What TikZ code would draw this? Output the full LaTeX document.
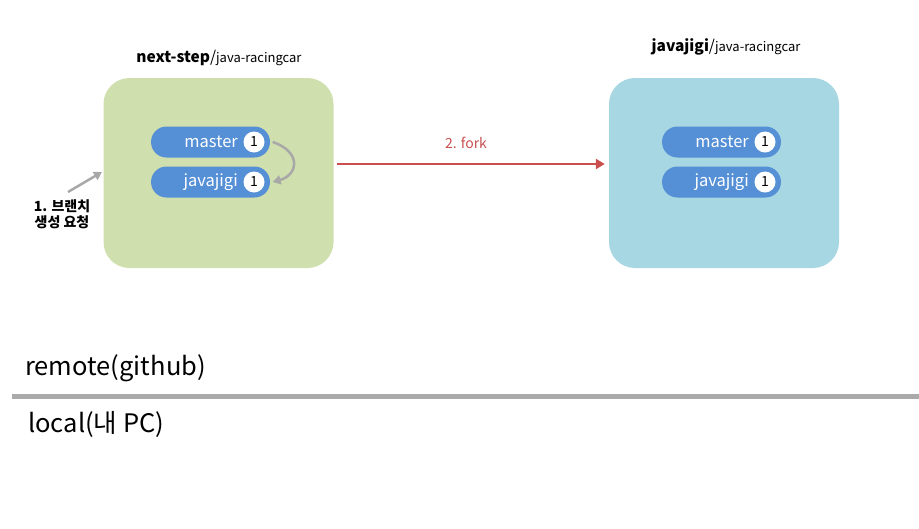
\documentclass[tikz,border=0pt]{standalone}
\usepackage{fontspec}
\setmainfont{Noto Sans CJK KR}
\usetikzlibrary{arrows.meta}
\definecolor{boxgreen}{HTML}{CFDFAD}
\definecolor{boxblue}{HTML}{A7D7E3}
\definecolor{pillblue}{HTML}{5590D6}
\definecolor{forkred}{HTML}{C9504F}
\definecolor{arrgray}{HTML}{A8A8A8}
\definecolor{linegray}{HTML}{AAAAAA}
\tikzset{
  repo/.style={rounded corners=26pt, minimum width=230pt, minimum height=190pt, inner sep=0pt},
  pill/.style={fill=pillblue, rounded corners=15.5pt, minimum width=119pt, minimum height=31pt, inner sep=0pt},
  pilltext/.style={text=white, font=\fontsize{16.5}{19}\selectfont, anchor=east, inner sep=0pt},
  badge/.style={circle, fill=white, minimum size=21pt, inner sep=0pt, font=\fontsize{14}{16}\selectfont},
  grayarrow/.style={draw=arrgray, line width=2.5pt, -{Triangle[length=8pt,width=9pt]}},
  title/.style={font=\fontsize{15.5}{18}\selectfont, inner sep=0pt},
  section/.style={font=\fontsize{25.5}{29}\selectfont, anchor=west, inner sep=0pt}
}
\begin{document}
\begin{tikzpicture}[x=1pt,y=-1pt]
\useasboundingbox (0,0) rectangle (919,528);
% repository boxes
\node[repo, fill=boxgreen] (src) at (218.5,173) {};
\node[repo, fill=boxblue] (dst) at (724,173) {};
\node[title] (srctitle) at (219,58) {\textbf{next-step}/{\fontsize{13}{15}\selectfont java-racingcar}};
\node[title] (dsttitle) at (726,47) {\textbf{javajigi}/{\fontsize{13}{15}\selectfont java-racingcar}};
% left pills
\node[pill] (m1) at (210.5,142) {};
\node[badge] (m1b) at (254,142) {1};
\node[pilltext] at (238,142) {master};
\node[pill] (j1) at (210.5,182) {};
\node[badge] (j1b) at (254,182) {1};
\node[pilltext] at (238,182) {javajigi};
% right pills
\node[pill] (m2) at (721.5,142) {};
\node[badge] (m2b) at (765,142) {1};
\node[pilltext] at (749,142) {master};
\node[pill] (j2) at (721.5,182) {};
\node[badge] (j2b) at (765,182) {1};
\node[pilltext] at (749,182) {javajigi};
% branch creation arrow
\draw[grayarrow] ([xshift=8pt]m1b.east) .. controls (302,152) and (298,175) .. ([xshift=8pt]j1b.east);
% request arrow
\coordinate (req) at (68,192);
\draw[grayarrow] (req) -- (102,172);
\node[align=center, font=\bfseries\fontsize{14}{16}\selectfont, inner sep=0pt] (reqlabel) at (62,214) {1. 브랜치\\생성 요청};
% fork arrow
\draw[draw=forkred, line width=2.5pt, -{Triangle[length=9pt,width=10pt]}] ([xshift=3pt,yshift=9pt]src.east) -- ([xshift=-4pt,yshift=9pt]dst.west);
\node[text=forkred, font=\fontsize{14}{16}\selectfont, inner sep=0pt] (forklabel) at (466,143) {2. fork};
% sections
\node[section] (remote) at (25,368) {remote(github)};
\draw[draw=linegray, line width=5pt] (12,396) coordinate (sepL) -- (919,396) coordinate (sepR);
\node[section] (local) at (28,424) {local(내 PC)};
\end{tikzpicture}
\end{document}
